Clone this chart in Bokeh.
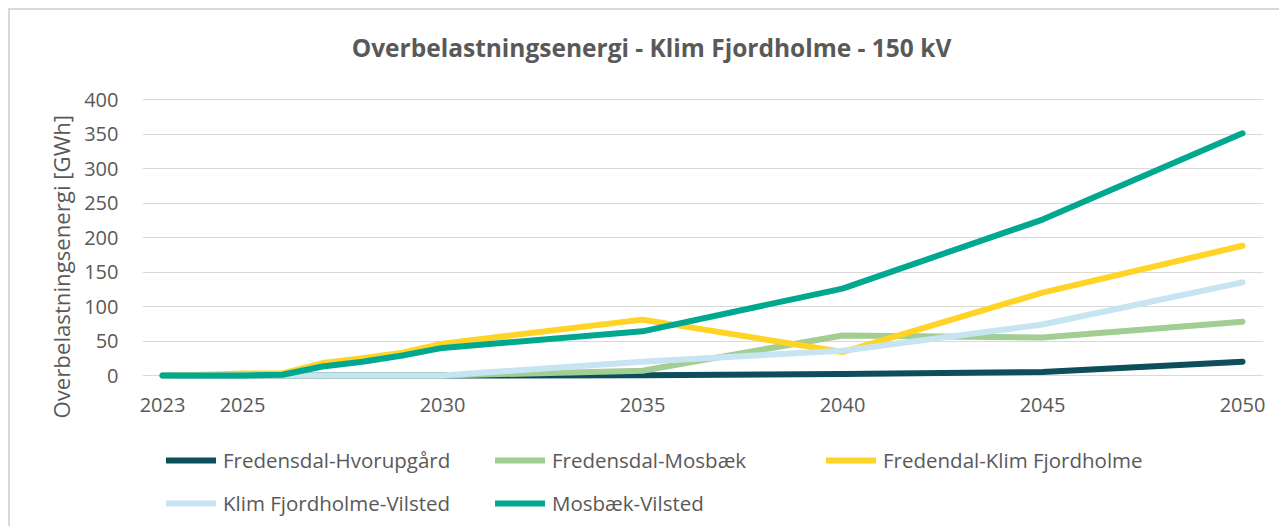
from bokeh.plotting import figure
from bokeh.models import Legend, LegendItem, FixedTicker, Range1d, Title, Label
from bokeh.layouts import column
from bokeh.embed import file_html
from bokeh.resources import INLINE

years = [2023, 2024, 2025, 2026, 2027, 2028, 2029, 2030, 2035, 2040, 2045, 2050]
fredensdal_hvorupgaard = [0, 0, 0, 0, 0, 0, 0, 0, 0.5, 2, 5, 20]
fredensdal_mosbaek = [0, 0, 0, 0, 0, 0, 0, 0, 7, 58, 55, 78]
fredendal_klim = [0, 1, 3, 3, 18, 25, 33, 46, 81, 34, 120, 188]
klim_vilsted = [0, 0, 0, 0, 0, 0, 0, 0, 20, 36, 74, 135]
mosbaek_vilsted = [0, 0, 0, 1, 13, 20, 29, 40, 64, 126, 226, 351]

series_names = ["Fredensdal-Hvorupgård", "Fredensdal-Mosbæk", "Fredendal-Klim Fjordholme",
                "Klim Fjordholme-Vilsted", "Mosbæk-Vilsted"]
series_values = [fredensdal_hvorupgaard, fredensdal_mosbaek, fredendal_klim, klim_vilsted, mosbaek_vilsted]
colors = ["#0D4E5B", "#A2CE93", "#FFD426", "#C6E4F1", "#00A88F"]

x_ticks = [2023, 2025, 2030, 2035, 2040, 2045, 2050]
y_ticks = [0, 50, 100, 150, 200, 250, 300, 350, 400]

title_text = "Overbelastningsenergi - Klim Fjordholme - 150 kV"
y_label_text = "Overbelastningsenergi [GWh]"

FONT = "Open Sans"
GRAY = "#595959"
LW = 6
W = 1269


def strip(height):
    f = figure(width=W, height=height, output_backend="svg", toolbar_location=None,
               x_range=Range1d(0, 1), y_range=Range1d(0, 1),
               min_border=0, min_border_left=0, min_border_right=0,
               min_border_top=0, min_border_bottom=0)
    f.axis.visible = False
    f.grid.visible = False
    f.outline_line_color = None
    f.background_fill_color = "white"
    f.border_fill_color = "white"
    return f


# ---------------- title strip ----------------
tp = strip(60)
tp.add_layout(Label(x=509, y=23, x_units="screen", y_units="screen", text=title_text,
                    text_font=FONT, text_font_style="bold", text_font_size="24.5px",
                    text_color=GRAY, text_align="center", text_baseline="middle"))

# ---------------- main chart ----------------
p = figure(width=W, height=360, output_backend="svg", toolbar_location=None,
           x_range=Range1d(2022.5, 2050.525), y_range=Range1d(-14.49, 401.45),
           min_border_left=132, min_border_right=16, min_border_top=28, min_border_bottom=45)
p.outline_line_color = None
p.background_fill_color = "white"
p.border_fill_color = "white"

p.xgrid.grid_line_color = None
p.ygrid.grid_line_color = "#D9D9D9"
p.ygrid.grid_line_width = 1
p.ygrid.ticker = FixedTicker(ticks=y_ticks)

p.xaxis.ticker = FixedTicker(ticks=x_ticks)
p.yaxis.ticker = FixedTicker(ticks=y_ticks)
for ax in (p.xaxis[0], p.yaxis[0]):
    ax.axis_line_color = None
    ax.major_tick_line_color = None
    ax.minor_tick_line_color = None
    ax.major_tick_out = 0
    ax.major_tick_in = 0
    ax.minor_tick_out = 0
    ax.major_label_text_font = FONT
    ax.major_label_text_font_size = "20px"
    ax.major_label_text_color = GRAY
p.xaxis.major_label_standoff = 12
p.yaxis.major_label_standoff = 24

renderers = []
for name, vals, col in zip(series_names, series_values, colors):
    r = p.line(years, vals, line_color=col, line_width=LW, line_cap="round", line_join="round")
    renderers.append(r)

p.add_layout(Title(text=y_label_text, align="left", offset=-33, standoff=10,
                   text_font=FONT, text_font_style="normal", text_font_size="22.2px",
                   text_color=GRAY), "left")

# ---------------- legend strip ----------------
lp = strip(96)
nan = float("nan")
proxies = []
for name, col in zip(series_names, colors):
    proxies.append(lp.line([nan], [nan], line_color=col, line_width=LW, line_cap="round"))


def make_legend(idx, x, y):
    items = [LegendItem(label=series_names[i], renderers=[proxies[i]]) for i in idx]
    lg = Legend(items=items, location=(x, y), orientation="vertical",
                glyph_width=50, glyph_height=28, label_height=28, label_standoff=7,
                spacing=15, padding=0, margin=0,
                border_line_color=None, background_fill_alpha=0,
                label_text_font=FONT, label_text_font_size="20.5px", label_text_color=GRAY)
    lp.add_layout(lg, "center")


make_legend([0, 3], 24, 9)
make_legend([1, 4], 353, 9)
make_legend([2], 684, 52)

layout = column(tp, p, lp, spacing=0, margin=(8, 0, 0, 8),
                styles={"border-top": "2px solid #D9D9D9", "border-left": "2px solid #D9D9D9"})

open("out.html", "w").write(file_html(layout, INLINE))
